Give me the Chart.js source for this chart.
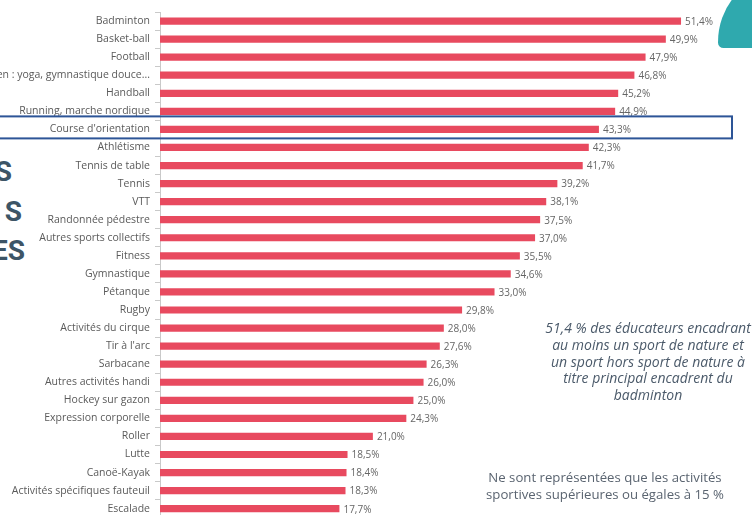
<!DOCTYPE html>
<html lang="fr">
<head>
<meta charset="utf-8">
<script src="https://cdn.jsdelivr.net/npm/chart.js@4/dist/chart.umd.min.js"></script>
<style>
  html, body { margin: 0; padding: 0; background: #fff; overflow: hidden; }
  body { width: 752px; height: 515px; position: relative; font-family: 'Open Sans', sans-serif; }
  #wrap { position: absolute; left: 0; top: 0; width: 752px; height: 529px; }
  .big { position: absolute; font-family: Roboto, sans-serif; font-weight: 700; font-size: 28px; color: #3d5566; line-height: 28px; text-align: right; }
  .note { position: absolute; text-align: center; white-space: nowrap; }
  #teal { position: absolute; left: 718px; top: -22px; width: 60px; height: 70px; background: #2fa9ae; border-top-left-radius: 100% 100%; border-bottom-left-radius: 6px; }
</style>
</head>
<body>
<div id="teal"></div>
<div class="big" style="right:740px; top:158px;">S</div>
<div class="big" style="right:730px; top:198px;">S</div>
<div class="big" style="right:727px; top:237px;">ES</div>
<div id="wrap"><canvas id="myChart"></canvas></div>
<div class="note" style="left:528px; top:320px; width:240px; font-style:italic; font-size:14px; line-height:16.8px; color:#4b5a6a;">
  51,4 % des éducateurs encadrant<br>au moins un sport de nature et<br>un sport hors sport de nature à<br>titre principal encadrent du<br>badminton
</div>
<div class="note" style="left:465px; top:469px; width:280px; font-size:13.2px; line-height:16.5px; color:#5a6470;">
  Ne sont représentées que les activités<br>sportives supérieures ou égales à 15 %
</div>
<script>
const activites = [
  'Badminton', 'Basket-ball', 'Football',
  "Activités d'entretien : yoga, gymnastique douce...",
  'Handball', 'Running, marche nordique', "Course d'orientation",
  'Athlétisme', 'Tennis de table', 'Tennis', 'VTT', 'Randonnée pédestre',
  'Autres sports collectifs', 'Fitness', 'Gymnastique', 'Pétanque', 'Rugby',
  'Activités du cirque', "Tir à l'arc", 'Sarbacane', 'Autres activités handi',
  'Hockey sur gazon', 'Expression corporelle', 'Roller', 'Lutte',
  'Canoë-Kayak', 'Activités spécifiques fauteuil', 'Escalade'
];
const pourcentages = [
  51.4, 49.9, 47.9, 46.8, 45.2, 44.9, 43.3, 42.3, 41.7, 39.2, 38.1, 37.5,
  37.0, 35.5, 34.6, 33.0, 29.8, 28.0, 27.6, 26.3, 26.0, 25.0, 24.3, 21.0,
  18.5, 18.4, 18.3, 17.7
];
const highlighted = "Course d'orientation";

// value labels at the end of each bar
const valueLabels = {
  id: 'valueLabels',
  afterDatasetsDraw(chart) {
    const ctx = chart.ctx;
    const meta = chart.getDatasetMeta(0);
    ctx.save();
    ctx.font = '10px "Open Sans"';
    ctx.fillStyle = '#666';
    ctx.textBaseline = 'middle';
    meta.data.forEach((bar, i) => {
      const txt = pourcentages[i].toFixed(1).replace('.', ',') + '%';
      ctx.fillText(txt, bar.x + 4, bar.y + 1);
    });
    ctx.restore();
  }
};

// frame around the highlighted row
const highlightBox = {
  id: 'highlightBox',
  afterDraw(chart) {
    const y = chart.scales.y;
    const cy = y.getPixelForValue(activites.indexOf(highlighted));
    const ctx = chart.ctx;
    ctx.save();
    ctx.strokeStyle = '#2d5597';
    ctx.lineWidth = 2;
    ctx.strokeRect(-5, cy - 13, 737, 22);
    ctx.restore();
  }
};

const ctx = document.getElementById('myChart').getContext('2d');
new Chart(ctx, {
  type: 'bar',
  data: {
    labels: activites,
    datasets: [{
      data: pourcentages,
      backgroundColor: '#e84a5f',
      barPercentage: 1,
      categoryPercentage: 0.4
    }]
  },
  options: {
    indexAxis: 'y',
    responsive: true,
    maintainAspectRatio: false,
    animation: false,
    layout: { padding: { top: 12, right: 0, bottom: 0, left: 0 } },
    plugins: { legend: { display: false }, tooltip: { enabled: false } },
    scales: {
      x: { display: false, min: 0, max: 58.4 },
      y: {
        afterFit(scale) { scale.width = 160; },
        border: { display: true, color: '#c9c9c9' },
        grid: { drawOnChartArea: false, drawTicks: true, tickLength: 5, color: '#c9c9c9' },
        ticks: {
          color: '#5a5a5a',
          padding: 5,
          autoSkip: false,
          font: { family: 'Open Sans', size: 10.5 }
        }
      }
    }
  },
  plugins: [valueLabels, highlightBox]
});
</script>
</body>
</html>
